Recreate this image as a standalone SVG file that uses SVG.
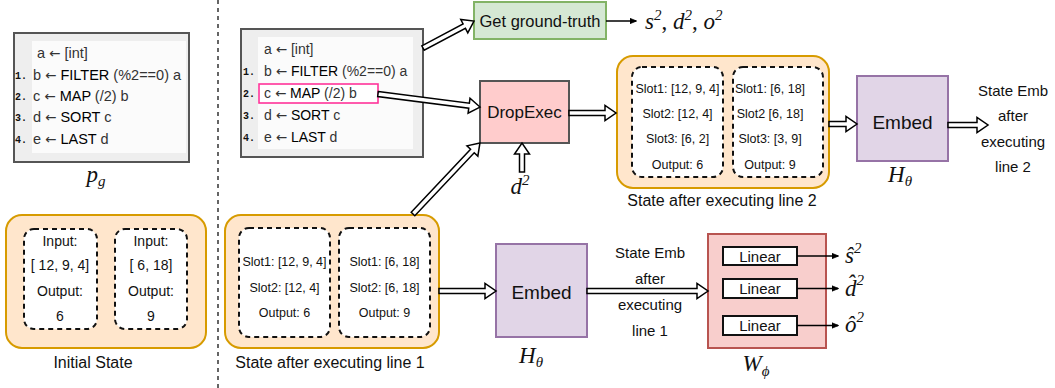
<svg xmlns="http://www.w3.org/2000/svg" width="1055" height="388" viewBox="0 0 1055 388">
  <defs>
    <marker id="tip" viewBox="0 0 10 10" refX="9" refY="5" markerWidth="7" markerHeight="7" orient="auto" markerUnits="userSpaceOnUse">
      <path d="M0,1 L10,5 L0,9 Z" fill="#000" stroke="#000" stroke-width="1"/>
    </marker>
  </defs>
  <style>
    .sans { font-family: "Liberation Sans", Arial, sans-serif; fill: #111; }
    .code { font-family: "Liberation Sans", Arial, sans-serif; font-size: 14.5px; fill: #333; }
    .code.sm { font-size: 14px; }
    .code .kw { fill: #000; }
    .code .ar { font-family: "DejaVu Sans", sans-serif; font-size: 13.5px; }
    .num { font-family: "Liberation Mono", "DejaVu Sans Mono", monospace; font-size: 10px; font-weight: bold; fill: #111; }
    .math { font-family: "Liberation Serif", "DejaVu Serif", serif; font-style: italic; font-size: 23px; fill: #111; }
    .codebox { fill: #eeeeee; stroke: #555; stroke-width: 2; }
    .codeinner { fill: #fbfbfb; stroke: none; }
    .state { fill: #ffe6cc; stroke: #d79b00; stroke-width: 2; }
    .slot { fill: #fff; stroke: #111; stroke-width: 2; stroke-dasharray: 5 4; }
    .embed { fill: #e1d5e7; stroke: #9673a6; stroke-width: 2; }
    .hollow { fill: #fff; stroke: #000; stroke-width: 1.5; stroke-linejoin: miter; }
    .thin { fill: none; stroke: #000; stroke-width: 1.5; marker-end: url(#tip); }
    .mid { text-anchor: middle; }
  </style>

  <!-- divider between the goal program and the execution pipeline -->
  <line x1="218" y1="0" x2="218" y2="388" stroke="#333" stroke-width="1.5" stroke-dasharray="4 4"/>

  <!-- goal program p_g -->
  <g id="program-goal">
    <rect class="codebox" x="14" y="33" width="175" height="129"/>
    <rect class="codeinner" x="32" y="41" width="154" height="112"/>
    <text class="code" x="37" y="58">a <tspan class="ar">←</tspan> [int]</text>
    <text class="num" x="15" y="79">1.</text>
    <text class="code" x="33" y="80">b <tspan class="ar">←</tspan> <tspan class="kw">FILTER</tspan> (%2==0) a</text>
    <text class="num" x="15" y="100">2.</text>
    <text class="code" x="33" y="101">c <tspan class="ar">←</tspan> <tspan class="kw">MAP</tspan> (/2) b</text>
    <text class="num" x="15" y="121">3.</text>
    <text class="code" x="33" y="122">d <tspan class="ar">←</tspan> <tspan class="kw">SORT</tspan> c</text>
    <text class="num" x="15" y="143">4.</text>
    <text class="code" x="33" y="144">e <tspan class="ar">←</tspan> <tspan class="kw">LAST</tspan> d</text>
    <text class="math mid" x="96" y="182">p<tspan font-size="15" dy="4">g</tspan></text>
  </g>

  <!-- initial state -->
  <g id="initial-state">
    <rect class="state" x="6" y="215" width="200" height="133" rx="16"/>
    <rect class="slot" x="24" y="229" width="73" height="100" rx="10"/>
    <rect class="slot" x="115" y="229" width="72" height="100" rx="10"/>
    <g class="sans mid" font-size="14">
      <text x="60" y="246">Input:</text>
      <text x="60" y="270">[ 12, 9, 4]</text>
      <text x="60" y="296">Output:</text>
      <text x="60" y="321">6</text>
      <text x="151" y="246">Input:</text>
      <text x="151" y="270">[ 6, 18]</text>
      <text x="151" y="296">Output:</text>
      <text x="151" y="321">9</text>
    </g>
    <text class="sans mid" x="93" y="368" font-size="16">Initial State</text>
  </g>

  <!-- program with line 2 highlighted -->
  <g id="program-step">
    <rect class="codebox" x="241" y="29" width="182" height="128"/>
    <rect class="codeinner" x="258" y="37" width="155" height="112"/>
    <text class="code sm" x="264" y="54">a <tspan class="ar">←</tspan> [int]</text>
    <text class="num" x="243" y="75">1.</text>
    <text class="code sm" x="264" y="76">b <tspan class="ar">←</tspan> <tspan class="kw">FILTER</tspan> (%2==0) a</text>
    <rect x="259" y="84" width="119" height="19" fill="#fff" stroke="#ff3399" stroke-width="1.6"/>
    <text class="num" x="243" y="97">2.</text>
    <text class="code sm" x="264" y="98">c <tspan class="ar">←</tspan> <tspan class="kw">MAP</tspan> (/2) b</text>
    <text class="num" x="243" y="119">3.</text>
    <text class="code sm" x="264" y="120">d <tspan class="ar">←</tspan> <tspan class="kw">SORT</tspan> c</text>
    <text class="num" x="243" y="141">4.</text>
    <text class="code sm" x="264" y="142">e <tspan class="ar">←</tspan> <tspan class="kw">LAST</tspan> d</text>
  </g>

  <!-- ground truth -->
  <g id="ground-truth">
    <rect x="474" y="2" width="132" height="37" fill="#d5e8d4" stroke="#82b366" stroke-width="2"/>
    <text class="sans mid" x="540" y="27" font-size="16.5">Get ground-truth</text>
  </g>
  <g id="ground-truth-out">
    <text class="math" x="645" y="29">s<tspan font-size="15" dy="-9">2</tspan><tspan font-style="normal" dy="9">, </tspan>d<tspan font-size="15" dy="-9">2</tspan><tspan font-style="normal" dy="9">, </tspan>o<tspan font-size="15" dy="-9">2</tspan></text>
  </g>

  <!-- DropExec -->
  <g id="dropexec">
    <rect x="480" y="81" width="89" height="62" fill="#ffcccc" stroke="#555" stroke-width="2"/>
    <text class="sans mid" x="524.5" y="118" font-size="17">DropExec</text>
  </g>
  <g id="d2-input">
    <text class="math mid" x="520" y="194">d<tspan font-size="15" dy="-9">2</tspan></text>
  </g>

  <!-- state after executing line 1 -->
  <g id="state-line1">
    <rect class="state" x="225" y="215" width="214" height="133" rx="16"/>
    <rect class="slot" x="239" y="228" width="91" height="109" rx="10"/>
    <rect class="slot" x="339" y="228" width="91" height="109" rx="10"/>
    <g class="sans mid" font-size="12.5">
      <text x="284.5" y="266">Slot1: [12, 9, 4]</text>
      <text x="284.5" y="292">Slot2: [12, 4]</text>
      <text x="284.5" y="317">Output: 6</text>
      <text x="384.5" y="266">Slot1: [6, 18]</text>
      <text x="384.5" y="292">Slot2: [6, 18]</text>
      <text x="384.5" y="317">Output: 9</text>
    </g>
    <text class="sans mid" x="330" y="368" font-size="16">State after executing line 1</text>
  </g>

  <!-- state after executing line 2 -->
  <g id="state-line2">
    <rect class="state" x="617" y="56" width="212" height="132" rx="16"/>
    <rect class="slot" x="632" y="67" width="91" height="110" rx="10"/>
    <rect class="slot" x="733" y="67" width="90" height="110" rx="10"/>
    <g class="sans mid" font-size="12.5">
      <text x="677.5" y="93">Slot1: [12, 9, 4]</text>
      <text x="677.5" y="118">Slot2: [12, 4]</text>
      <text x="677.5" y="143">Slot3: [6, 2]</text>
      <text x="677.5" y="169">Output: 6</text>
      <text x="770" y="93">Slot1: [6, 18]</text>
      <text x="770" y="118">Slot2 [6, 18]</text>
      <text x="770" y="143">Slot3: [3, 9]</text>
      <text x="770" y="169">Output: 9</text>
    </g>
    <text class="sans mid" x="722" y="206" font-size="16">State after executing line 2</text>
  </g>

  <!-- embedding of line-2 state -->
  <g id="embed-line2">
    <rect class="embed" x="857" y="76" width="91" height="85"/>
    <text class="sans mid" x="902.5" y="129" font-size="19">Embed</text>
    <text class="math mid" x="900" y="182">H<tspan font-size="15" dy="4">θ</tspan></text>
  </g>
  <g id="emb-label-line2" class="sans mid" font-size="15">
    <text x="1013" y="96">State Emb</text>
    <text x="1013" y="121">after</text>
    <text x="1013" y="147">executing</text>
    <text x="1013" y="172">line 2</text>
  </g>

  <!-- embedding of line-1 state -->
  <g id="embed-line1">
    <rect class="embed" x="496" y="244" width="91" height="93"/>
    <text class="sans mid" x="541.5" y="299" font-size="19">Embed</text>
    <text class="math mid" x="531" y="363">H<tspan font-size="15" dy="4">θ</tspan></text>
  </g>
  <g id="emb-label-line1" class="sans mid" font-size="15">
    <text x="650" y="258">State Emb</text>
    <text x="650" y="284">after</text>
    <text x="650" y="310">executing</text>
    <text x="650" y="336">line 1</text>
  </g>

  <!-- prediction heads W_phi -->
  <g id="heads">
    <rect x="708" y="234" width="118" height="114" fill="#f8cecc" stroke="#b85450" stroke-width="2"/>
    <rect x="723" y="247" width="74" height="18" fill="#fff" stroke="#111" stroke-width="2"/>
    <rect x="723" y="279" width="74" height="19" fill="#fff" stroke="#111" stroke-width="2"/>
    <rect x="723" y="316" width="74" height="19" fill="#fff" stroke="#111" stroke-width="2"/>
    <g class="sans mid" font-size="15">
      <text x="760" y="262">Linear</text>
      <text x="760" y="294">Linear</text>
      <text x="760" y="331">Linear</text>
    </g>
    <text class="math mid" x="756" y="371" font-size="24">W<tspan font-size="15" dy="5">ϕ</tspan></text>
  </g>
  <g id="head-outputs">
    <text class="math" x="845" y="263">ŝ<tspan font-size="15" dy="-10">2</tspan></text>
    <text class="math" x="845" y="296">d̂<tspan font-size="15" dy="-11">2</tspan></text>
    <text class="math" x="845" y="332">ô<tspan font-size="15" dy="-10">2</tspan></text>
  </g>

  <!-- connectors -->
  <g id="connectors">
    <!-- hollow block arrows, drawn along +x then placed -->
    <path class="hollow" transform="translate(423,48) rotate(-27.9)" d="M0,-2.5 H46.7 V-7.5 L57.7,0 L46.7,7.5 V2.5 H0 Z"/>
    <path class="hollow" transform="translate(378,94) rotate(7.3)" d="M0,-2.5 H91.8 V-7.5 L102.8,0 L91.8,7.5 V2.5 H0 Z"/>
    <path class="hollow" transform="translate(413,214) rotate(-46.7)" d="M0,-2.5 H86.6 V-7.5 L97.6,0 L86.6,7.5 V2.5 H0 Z"/>
    <path class="hollow" transform="translate(522,172) rotate(-90)" d="M0,-2.5 H18 V-7.5 L29,0 L18,7.5 V2.5 H0 Z"/>
    <path class="hollow" transform="translate(569,113)" d="M0,-2.5 H36 V-7.5 L47,0 L36,7.5 V2.5 H0 Z"/>
    <path class="hollow" transform="translate(829,124)" d="M0,-2.5 H17 V-7.5 L28,0 L17,7.5 V2.5 H0 Z"/>
    <path class="hollow" transform="translate(948,125)" d="M0,-2.5 H29 V-7.5 L40,0 L29,7.5 V2.5 H0 Z"/>
    <path class="hollow" transform="translate(439,291)" d="M0,-2.5 H46 V-7.5 L57,0 L46,7.5 V2.5 H0 Z"/>
    <path class="hollow" transform="translate(587,291)" d="M0,-2.5 H110 V-7.5 L121,0 L110,7.5 V2.5 H0 Z"/>
    <!-- thin arrows -->
    <line class="thin" x1="606" y1="21" x2="636" y2="21"/>
    <line class="thin" x1="797" y1="256" x2="838" y2="256"/>
    <line class="thin" x1="797" y1="288.5" x2="838" y2="288.5"/>
    <line class="thin" x1="797" y1="325.5" x2="838" y2="325.5"/>
  </g>
</svg>
